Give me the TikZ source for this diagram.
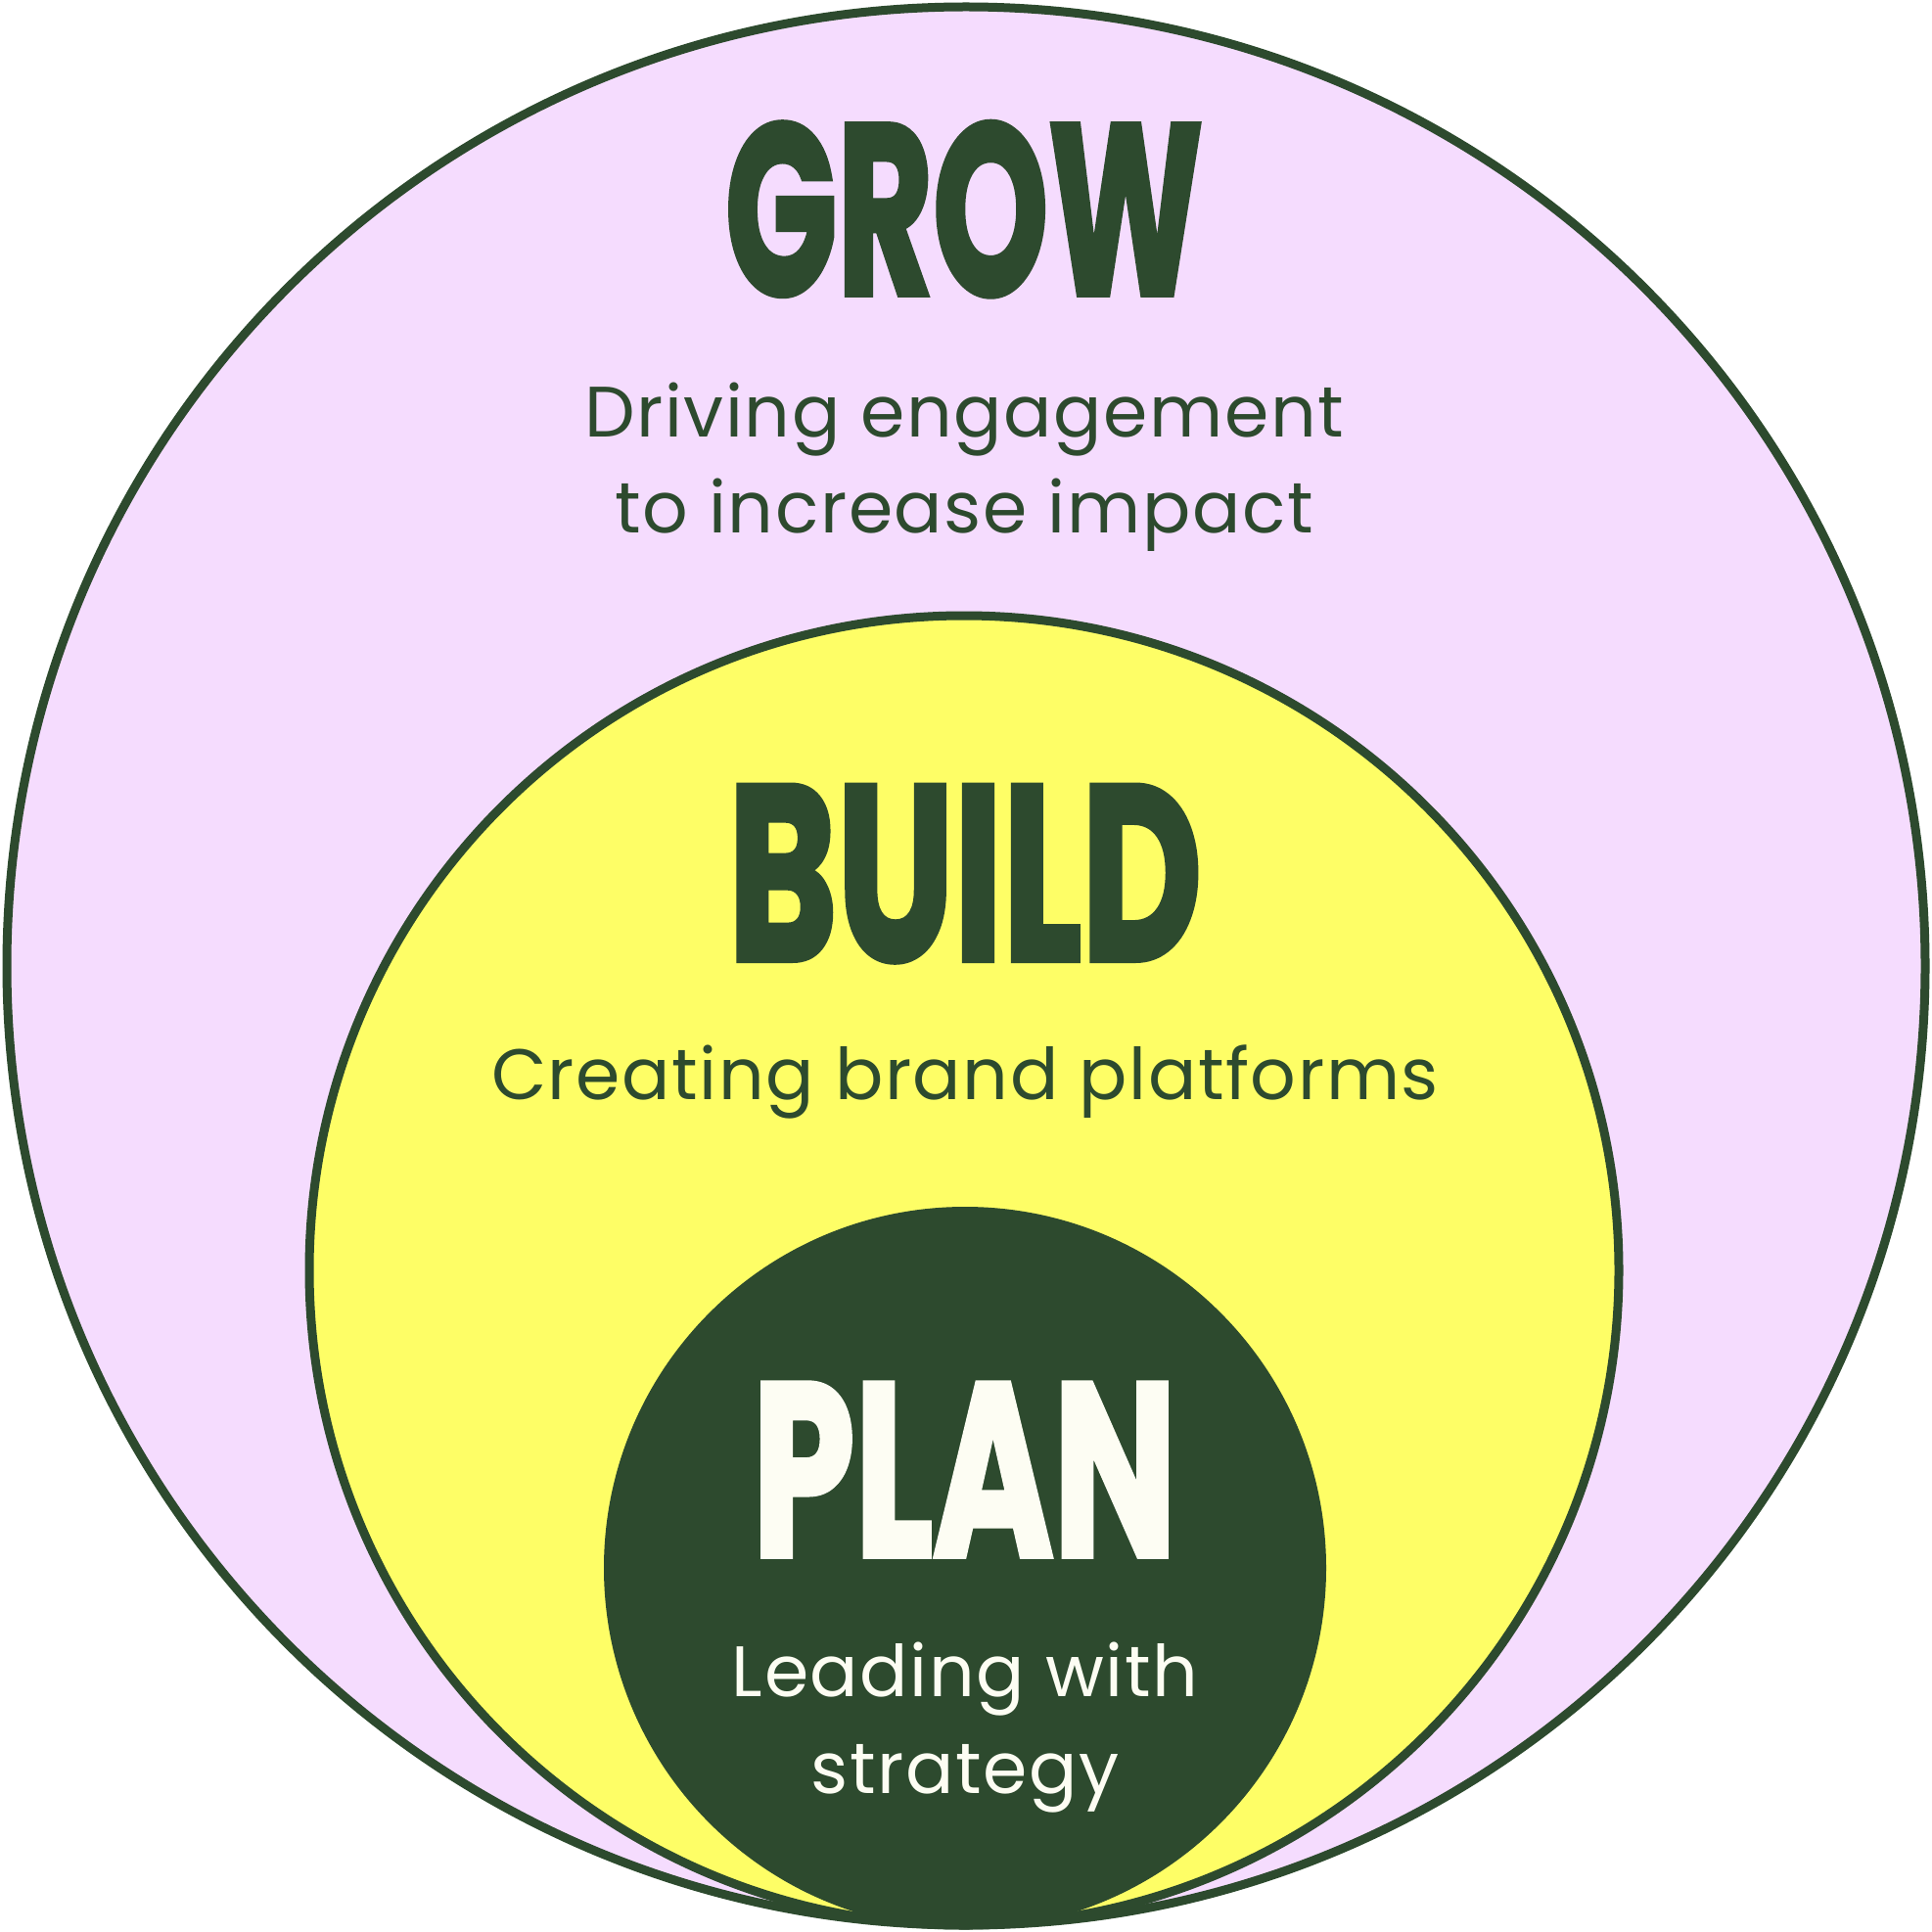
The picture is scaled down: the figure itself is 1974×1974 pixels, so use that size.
\documentclass[tikz,border=0pt]{standalone}
\usepackage{fontspec}
\setmainfont{Poppins}
\newfontfamily\heavy[BoldFeatures={FakeBold=2.5}]{Poppins}
\newfontfamily\subfont[LetterSpace=2.2]{Poppins}
\definecolor{pinkbg}{HTML}{F5DCFE}
\definecolor{yel}{HTML}{FEFE66}
\definecolor{dkgreen}{HTML}{2D4A2E}
\definecolor{cream}{HTML}{FDFDF3}
\tikzset{
  ring/.style={line width=4.5pt, draw=dkgreen},
  title/.style={inner sep=0pt, anchor=south},
  sub/.style={inner sep=0pt, anchor=base, font=\subfont\fontsize{36.5}{42}\selectfont}
}
\begin{document}
\begin{tikzpicture}[x=0.5pt,y=-0.5pt]
\useasboundingbox (0,0) rectangle (1974,1974);
\fill[white] (0,0) rectangle (1974,1974);
\path[ring, fill=pinkbg] (987,987) circle [radius=980];
\path[ring, fill=yel] (985,1298) circle [radius=669];
\fill[dkgreen] (986,1602) circle [radius=369];
\node[title, text=dkgreen] (grow) at (985,303) {\resizebox{244pt}{88pt}{\heavy\bfseries GROW}};
\node[sub, text=dkgreen] (g1) at (985,446) {Driving engagement};
\node[sub, text=dkgreen] (g2) at (985,544) {to increase impact};
\node[title, text=dkgreen] (build) at (986,983) {\resizebox{242pt}{89pt}{\heavy\bfseries BUILD}};
\node[sub, text=dkgreen] (b1) at (986,1123) {Creating brand platforms};
\node[title, text=cream] (plan) at (985.5,1590) {\resizebox{216.5pt}{88pt}{\heavy\bfseries PLAN}};
\node[sub, text=cream] (p1) at (986,1733) {Leading with};
\node[sub, text=cream] (p2) at (986,1832) {strategy};
\end{tikzpicture}
\end{document}
